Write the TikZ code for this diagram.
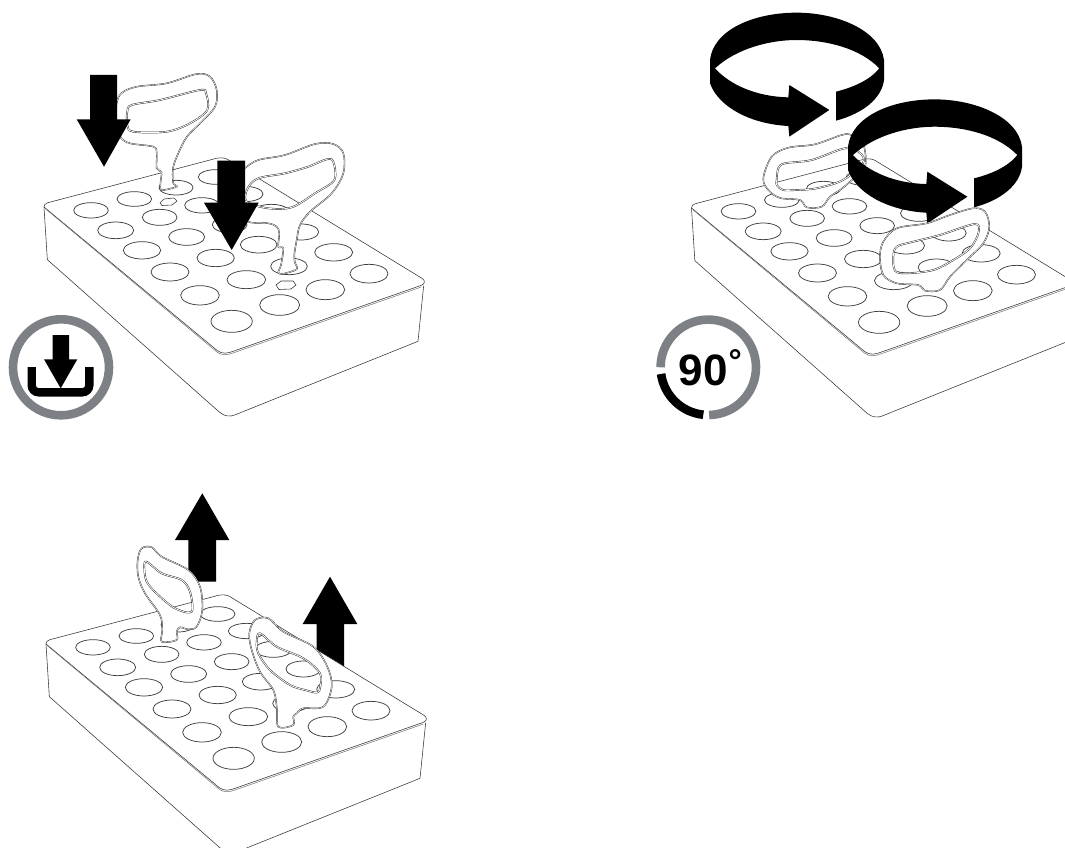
\documentclass[tikz,border=0pt]{standalone}
\usepackage{fontspec}
\setmainfont{Liberation Sans}
\definecolor{icongray}{HTML}{7D8186}
\tikzset{
  rackline/.style={draw=black!80,line width=0.55pt,line join=round},
  holeline/.style={draw=black!75,line width=0.75pt},
  keyouter/.style={draw=black!85,double=white,double distance=0.5pt,line width=0.42pt,line join=round},
  keyinner/.style={draw=black!85,double=white,double distance=0.8pt,line width=0.45pt,line join=round},
  solidarrow/.style={fill=black,draw=none},
  iconring/.style={draw=icongray,line width=8.6pt},
  iconblack/.style={draw=black,line width=8.6pt}
}
\newcommand{\rack}[2]{%
  \begin{scope}[shift={(#1,#2)},scale=1/3]
    \path[fill=white] (48,492) .. controls (48,484) and (52,482) .. (60,479) -- (565,346) .. controls (580,343) and (592,345) .. (600,350) -- (1182,706) .. controls (1192,712) and (1192,722) .. (1187,728) -- (1170,895) -- (620,1116) .. controls (605,1122) and (590,1120) .. (575,1108) -- (58,650) -- cycle;
    \draw[rackline] (48,492) -- (58,650) -- (575,1108) .. controls (590,1120) and (605,1122) .. (620,1116) -- (1170,895) -- (1187,728);
    \draw[rackline] (48,492) .. controls (48,484) and (52,482) .. (60,479) -- (565,346) .. controls (580,343) and (592,345) .. (600,350) -- (1182,706) .. controls (1192,712) and (1192,722) .. (1180,727) -- (615,925) .. controls (600,931) and (582,934) .. (568,923) -- cycle;
    \draw[draw=black!55,line width=0.5pt] (52,497) -- (568,928) .. controls (582,938) and (600,936) .. (615,930) -- (1180,732);
    \foreach \cx/\cy/\ra/\rb in {
      189/502/52/23, 319/468/52/22, 444/434/51/22, 563/402/52/22,
      263/562/54/25, 395/523/52/24, 522/487/52/23, 650/453/55/23,
      342/622/56/26, 476/582/54/25, 605/545/52/24, 730/508/55/24,
      426/687/57/27, 563/645/56/26, 692/605/55/25, 820/567/52/24,
      516/757/58/29, 655/710/58/27, 783/670/55/25, 917/628/57/26,
      611/835/62/33, 755/786/60/31, 892/740/58/30, 1023/692/57/28}
      {\draw[holeline] (\cx,\cy) ellipse [x radius=\ra,y radius=\rb];}
  \end{scope}}
\newcommand{\keyshape}[2]{%
  \fill[white,even odd rule] plot[smooth cycle,tension=0.55] coordinates {#1} plot[smooth cycle,tension=0.55] coordinates {#2};
  \draw[keyouter] plot[smooth cycle,tension=0.55] coordinates {#1};
  \draw[keyinner] plot[smooth cycle,tension=0.55] coordinates {#2};}
\newcommand{\turnarrow}[2]{%
  \begin{scope}[shift={(#1,#2)},scale=1/3]
    \fill (255,205) .. controls (320,145) and (420,120) .. (500,120) .. controls (590,120) and (690,145) .. (748,205)
      .. controls (720,240) and (670,262) .. (618,275) -- (618,362) .. controls (700,340) and (755,295) .. (762,240)
      -- (762,180) .. controls (750,90) and (620,38) .. (500,38) .. controls (370,38) and (250,90) .. (240,180)
      -- (240,250) .. controls (265,320) and (360,372) .. (475,378) -- (478,410) -- (598,330) -- (478,255) -- (475,292)
      .. controls (380,290) and (300,255) .. (255,205) -- cycle;
  \end{scope}}
\begin{document}
\begin{tikzpicture}[x=1pt,y=-1pt]
\useasboundingbox (0,0) rectangle (1065,848);
\clip (0,0) rectangle (1065,848);
\fill[white] (0,0) rectangle (1065,848);

% ---------- top left ----------
\rack{28}{43}
\draw[holeline,line width=0.6pt] (160,203) -- (164,199) -- (174,198) -- (177,201) -- (172,205) -- (162,205.5) -- cycle;
\draw[holeline,line width=0.6pt] (276,285) -- (281,281) -- (293,281) -- (296,285) -- (291,289) -- (279,289.5) -- cycle;
\keyshape{(116.7,103)(121.7,93)(136.7,86.7)(166.7,83.3)(196.7,74)(210,76.7)(216.7,90)(215,106.7)(200,123.3)(186.7,137)(178.3,153.3)(173.3,166.7)(172.7,178)(173.5,184)(176.7,186.7)(161.7,190)(160.5,183)(161.5,172)(156.7,168.3)(156.7,153.3)(153.3,146.7)(130,143.3)(120,136.7)(115,122)}
{(127.3,111.7)(131.7,105)(160,100)(200,90)(206,93.3)(207.3,110)(190,123.3)(166.7,131.7)(133.3,131.7)(127.3,125)}
\keyshape{(245,168)(258.3,160)(285,155)(315,144)(333.3,144)(343.3,153.3)(343.3,173.3)(331.7,193.3)(310,211.7)(300,225)(296.7,240)(294.3,255)(295,263)(296.7,269.3)(281.7,274)(278.3,271.7)(281,265)(283.3,248.3)(278.3,246.7)(279.3,233.3)(276.7,226.7)(268.3,223.3)(248.3,221.7)(241.7,210)(240,197)(240,173)}
{(258.3,178.3)(285,173.3)(308.3,166.7)(326.7,159.3)(333.3,161.7)(334.3,180)(315,193.3)(291.7,207.3)(268.3,208.3)(246.7,201.7)(247.7,188.3)}
\fill[solidarrow] (90,75) -- (117,75) -- (117,119.3) -- (130.7,119.3) -- (104,166.7) -- (76.7,119.3) -- (90,119.3) -- cycle;
\fill[solidarrow] (217.3,160.7) -- (245,160.7) -- (245,202.7) -- (258.7,202.7) -- (231.7,250) -- (204,202.7) -- (217.3,202.7) -- cycle;
% download icon
\draw[iconring] (61,367.3) circle [radius=48];
\draw[draw=black,line width=8.4pt,rounded corners=7pt] (31.7,367) -- (31.7,392.3) -- (89.3,392.3) -- (89.3,367);
\fill[solidarrow] (52.7,335) -- (69,335) -- (69,359.3) -- (77.3,359.3) -- (60.7,388.3) -- (44,359.3) -- (52.7,359.3) -- cycle;

% ---------- top right ----------
\rack{675.5}{44}
\keyshape{(763.3,178.3)(771.7,156.7)(788.3,147.7)(815,144.3)(841.7,135)(851.7,135)(863,143)(865,166.7)(850,181.7)(840,190)(830,196.7)(821.7,206.7)(806.7,207.3)(800,200)(780,198)(768.3,190)}
{(776.7,180)(778.3,168.3)(785,163.3)(811.7,160)(845,148.3)(860,153)(863,163)(843,180)(816.7,188.3)(796.7,190)(783,190)(776.7,185)}
\turnarrow{630}{0}
\turnarrow{768}{86.7}
\keyshape{(880,256.7)(883.3,241.7)(896.7,228.3)(926.7,223.3)(950,215)(973.3,208.3)(985,211.7)(989.3,226.7)(983.3,243.3)(966.7,260)(950,276.7)(940,290)(925,290.7)(918.3,285)(896.7,283.3)(883.3,275)}
{(893.3,256.7)(896.7,246.7)(913.3,241.7)(940,235)(975,224)(978.3,233.3)(970,248.3)(953.3,260)(933.3,270)(906.7,273.3)(895,270.7)}
% 90 degree icon (y axis points down, so angles run clockwise on the page)
\draw[iconring,line cap=butt] (708.3,367.3) ++(89:47.7) arc[start angle=89,end angle=-180,radius=47.7];
\draw[iconblack,line cap=butt] (708.3,367.3) ++(172:47.7) arc[start angle=172,end angle=96,radius=47.7];
\node[inner sep=0pt,anchor=base west,font=\fontsize{44}{44}\selectfont\bfseries] (ninety) at (678.5,385) {90\raisebox{13pt}{\fontsize{33}{33}\selectfont\hspace{1pt}°}};

% ---------- bottom left ----------
\fill[solidarrow] (202.3,493.3) -- (229.3,540) -- (216,540) -- (216,581.7) -- (188.3,581.7) -- (188.3,540) -- (175,540) -- cycle;
\fill[solidarrow] (330,576.7) -- (357.3,624) -- (344,624) -- (344,680) -- (316.7,680) -- (316.7,624) -- (302.7,624) -- cycle;
\rack{30}{480}
\keyshape{(137.7,560)(141.7,548.3)(151.7,547.3)(161.7,556.7)(188.3,570)(200,586.7)(202.3,610)(196.7,626.7)(188.3,629.3)(180,627.3)(176.7,631.7)(176.7,640)(161.7,641.7)(162.3,630)(160,615)(145,593.3)(138.3,576.7)}
{(144.3,566.7)(146.7,561.7)(161.7,573.3)(181.7,580)(190,591.7)(191.7,611.7)(175,608.3)(158.3,595)(146.7,581.7)}
\keyshape{(249.3,633.3)(255,620)(268.3,618.3)(283.3,631.7)(313.3,646.7)(327.3,666.7)(331.7,686.7)(323.3,706.7)(303.3,708.3)(296.7,713.3)(293.3,716.7)(293.3,725)(278.3,726.7)(276.7,706.7)(273.3,690)(260,671.7)(251.7,650)}
{(256.7,641.7)(260,633.3)(276.7,646.7)(303.3,658.3)(320,673.3)(320,688)(317,692.5)(305,690)(290,685)(270,670)(258.3,653.3)}
\end{tikzpicture}
\end{document}
